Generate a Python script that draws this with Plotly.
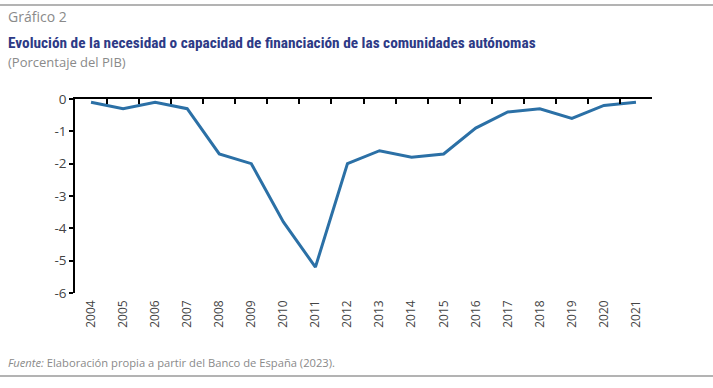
import plotly.graph_objects as go

years = [str(y) for y in range(2004, 2022)]
values = [-0.1, -0.3, -0.1, -0.3, -1.7, -2.0, -3.8, -5.2, -2.0, -1.6,
          -1.8, -1.7, -0.9, -0.4, -0.3, -0.6, -0.2, -0.1]
y_ticks = [0, -1, -2, -3, -4, -5, -6]

W, H = 713, 388
L, R, T, B = 75, 61, 99, 95
PW = W - L - R
PH = H - T - B

def px(x):
    return (x - L) / PW

def py(y):
    return (H - B - y) / PH

fig = go.Figure()
fig.add_trace(go.Scatter(x=years, y=values, mode="lines",
                         line=dict(color="#2b70a6", width=3),
                         showlegend=False, hoverinfo="x+y"))
fig.add_trace(go.Scatter(x=years, y=values, mode="lines", xaxis="x2",
                         line=dict(color="rgba(0,0,0,0)", width=0),
                         showlegend=False, hoverinfo="skip"))

fig.update_layout(
    width=W, height=H,
    margin=dict(l=L, r=R, t=T, b=B),
    paper_bgcolor="white", plot_bgcolor="white",
    font=dict(family="Open Sans, Noto Sans, sans-serif", color="#444444"),
    xaxis=dict(type="category", categoryorder="array", categoryarray=years,
               range=[-0.5, len(years) - 0.5],
               showline=False, showgrid=False, zeroline=False, ticks="",
               tickangle=-90, tickfont=dict(size=12, color="#444444"),
               ticklabelstandoff=4),
    xaxis2=dict(type="category", categoryorder="array", categoryarray=years,
                range=[-0.5, len(years) - 0.5], overlaying="x", side="top",
                showline=True, linecolor="#000000", linewidth=1.5,
                ticks="inside", tickson="boundaries", ticklen=5,
                tickcolor="#000000", tickwidth=1.5,
                showticklabels=False, showgrid=False, zeroline=False),
    yaxis=dict(range=[-6, 0], tickvals=y_ticks, ticktext=[str(v) for v in y_ticks],
               showline=True, linecolor="#000000", linewidth=1.5,
               ticks="outside", ticklen=4, tickcolor="#000000", tickwidth=1.5,
               showgrid=False, zeroline=False,
               tickfont=dict(size=13.5, color="#444444")),
)

fig.add_annotation(text="Gráfico 2", xref="paper", yref="paper",
                   x=px(6), y=py(17), xanchor="left", yanchor="middle",
                   showarrow=False, font=dict(size=14, color="#8a8a8a"))
fig.add_annotation(text="<b>Evolución de la necesidad o capacidad de financiación de las comunidades autónomas</b>",
                   xref="paper", yref="paper", x=px(6), y=py(43),
                   xanchor="left", yanchor="middle", showarrow=False,
                   font=dict(size=15.3, color="#2d3a86",
                             family="Liberation Sans Narrow, Roboto Condensed, Liberation Sans, sans-serif"))
fig.add_annotation(text="(Porcentaje del PIB)", xref="paper", yref="paper",
                   x=px(6), y=py(62), xanchor="left", yanchor="middle",
                   showarrow=False, font=dict(size=13, color="#8a8a8a"))
fig.add_annotation(text="<i>Fuente:</i> Elaboración propia a partir del Banco de España (2023).",
                   xref="paper", yref="paper", x=px(6), y=py(362),
                   xanchor="left", yanchor="middle", showarrow=False,
                   font=dict(size=11.2, color="#8a8a8a"))

for yline in (5, 376):
    fig.add_shape(type="line", xref="paper", yref="paper",
                  x0=px(0), x1=px(W), y0=py(yline), y1=py(yline),
                  line=dict(color="#9a9a9a", width=1.5))

fig.write_html("out.html", config={"displayModeBar": False},
               post_script="document.body.style.margin='0';document.body.style.overflow='hidden';")
